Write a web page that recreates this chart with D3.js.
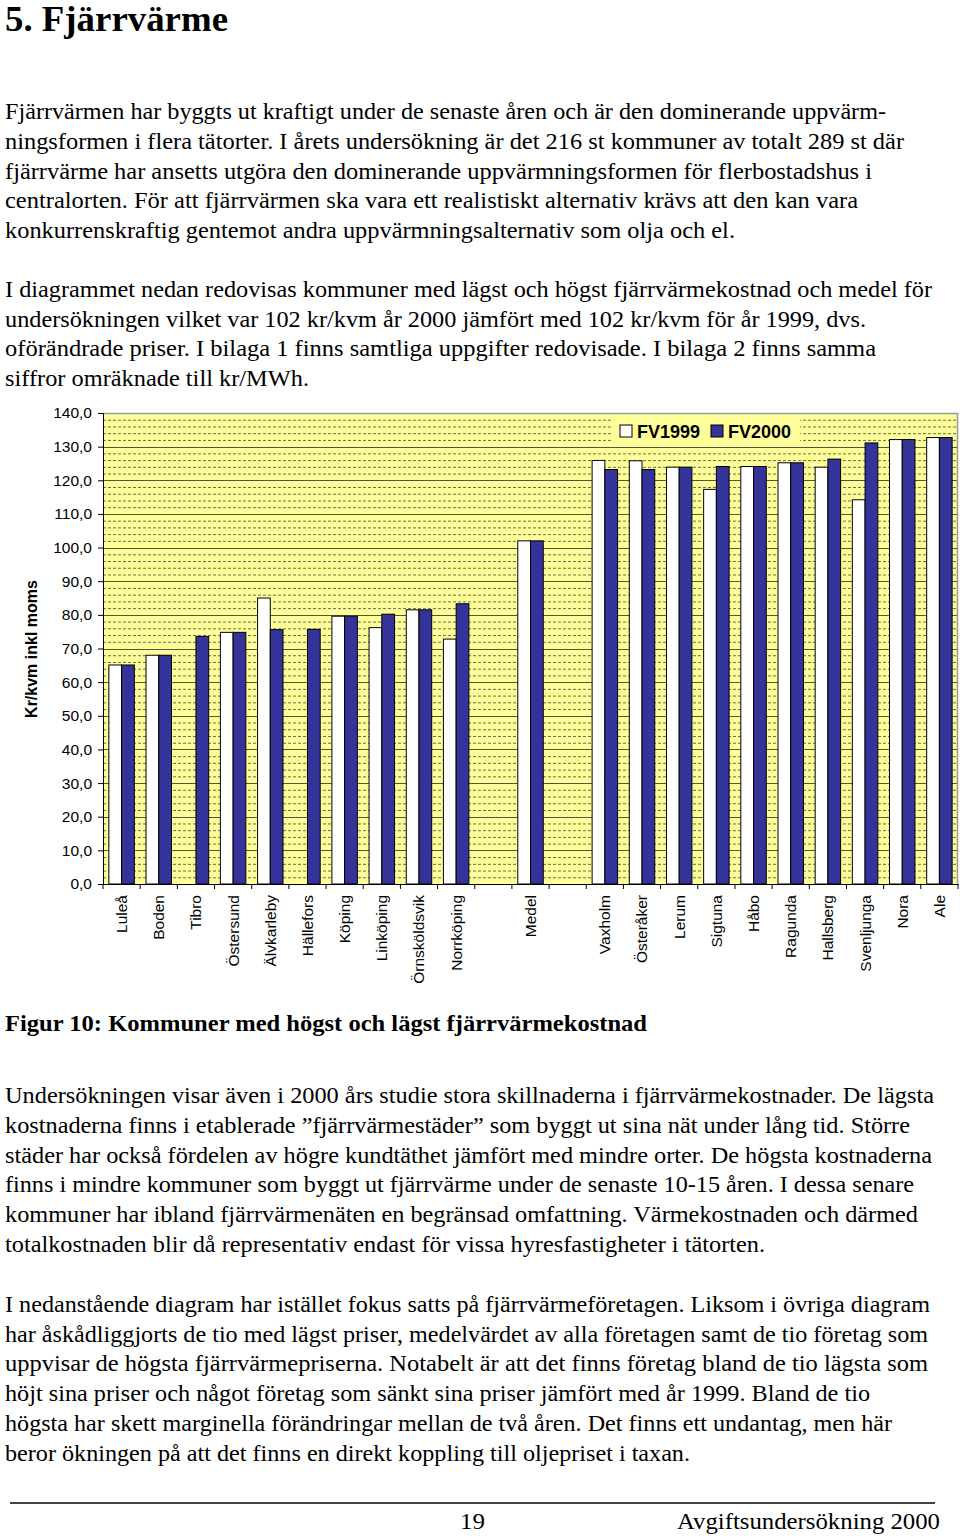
<!DOCTYPE html>
<html><head><meta charset="utf-8">
<script src="https://cdn.jsdelivr.net/npm/d3@7"></script>
<style>body{margin:0;background:#fff}svg{display:block}</style>
</head><body><svg id="c" width="960" height="1536"></svg>
<script>
const categories = ["Luleå","Boden","Tibro","Östersund","Älvkarleby","Hällefors","Köping","Linköping","Örnsköldsvik","Norrköping","","Medel","","Vaxholm","Österåker","Lerum","Sigtuna","Håbo","Ragunda","Hallsberg","Svenljunga","Nora","Ale"];
const fv1999 = [65.1,68.0,null,74.8,85.0,null,79.6,76.2,81.5,72.8,null,102.0,null,125.9,125.8,123.9,117.3,124.1,125.2,123.9,114.2,132.1,132.7];
const fv2000 = [65.1,68.0,73.6,74.8,75.6,75.7,79.6,80.2,81.5,83.3,null,102.0,null,123.2,123.2,123.9,124.1,124.1,125.2,126.3,131.1,132.1,132.7];
const seriesNames = ["FV1999","FV2000"];
const seriesColors = ["#ffffff","#333399"];
const yTicks = d3.range(0,141,10);
const yMinor = d3.range(0,141,2).filter(v => v % 10 !== 0);

const title = "5. Fjärrvärme";
const para1 = [
 ["Fjärrvärmen har byggts ut kraftigt under de senaste åren och är den dominerande uppvärm-",886],
 ["ningsformen i flera tätorter. I årets undersökning är det 216 st kommuner av totalt 289 st där",904],
 ["fjärrvärme har ansetts utgöra den dominerande uppvärmningsformen för flerbostadshus i",872],
 ["centralorten. För att fjärrvärmen ska vara ett realistiskt alternativ krävs att den kan vara",858],
 ["konkurrenskraftig gentemot andra uppvärmningsalternativ som olja och el.",735]
];
const para2 = [
 ["I diagrammet nedan redovisas kommuner med lägst och högst fjärrvärmekostnad och medel för",932],
 ["undersökningen vilket var 102 kr/kvm år 2000 jämfört med 102 kr/kvm för år 1999, dvs.",866],
 ["oförändrade priser. I bilaga 1 finns samtliga uppgifter redovisade. I bilaga 2 finns samma",876],
 ["siffror omräknade till kr/MWh.",309]
];
const caption = "Figur 10: Kommuner med högst och lägst fjärrvärmekostnad";
const para3 = [
 ["Undersökningen visar även i 2000 års studie stora skillnaderna i fjärrvärmekostnader. De lägsta",934],
 ["kostnaderna finns i etablerade ”fjärrvärmestäder” som byggt ut sina nät under lång tid. Större",910],
 ["städer har också fördelen av högre kundtäthet jämfört med mindre orter. De högsta kostnaderna",932],
 ["finns i mindre kommuner som byggt ut fjärrvärme under de senaste 10-15 åren. I dessa senare",914],
 ["kommuner har ibland fjärrvärmenäten en begränsad omfattning. Värmekostnaden och därmed",918],
 ["totalkostnaden blir då representativ endast för vissa hyresfastigheter i tätorten.",765]
];
const para4 = [
 ["I nedanstående diagram har istället fokus satts på fjärrvärmeföretagen. Liksom i övriga diagram",930],
 ["har åskådliggjorts de tio med lägst priser, medelvärdet av alla företagen samt de tio företag som",928],
 ["uppvisar de högsta fjärrvärmepriserna. Notabelt är att det finns företag bland de tio lägsta som",928],
 ["höjt sina priser och något företag som sänkt sina priser jämfört med år 1999. Bland de tio",870],
 ["högsta har skett marginella förändringar mellan de två åren. Det finns ett undantag, men här",892],
 ["beror ökningen på att det finns en direkt koppling till oljepriset i taxan.",690]
];

const SERIF = '"Liberation Serif"';
const SANS = '"Liberation Sans"';
const svg = d3.select("#c");

function stext(x, yy, size, txt, w, weight) {
  const t = svg.append("text").attr("x",x).attr("y",yy)
    .style("font-family",SERIF).style("font-size",size+"px").style("font-weight",weight||"normal")
    .text(txt);
  if (w) t.attr("textLength",w).attr("lengthAdjust","spacingAndGlyphs");
  return t;
}
function lines(arr, y0, step, weight) {
  arr.forEach((l,i) => stext(5, y0+i*step, 24, l[0], l[1]-5, weight));
}
stext(5, 31, 35, title, 223, "bold");
lines(para1,119,29.8);
lines(para2,297,29.7);
lines([[caption,647]],1031,0,"bold");
lines(para3,1103,29.8);
lines(para4,1312,29.7);

// footer
svg.append("line").attr("x1",10).attr("x2",935).attr("y1",1503).attr("y2",1503).attr("stroke","#444").attr("stroke-width",2);
stext(460,1529,24,"19",25);
stext(677,1529,24,"Avgiftsundersökning 2000",263);

// chart
const L=103,R=958,T=413,B=884;
const y = d3.scaleLinear().domain([0,140]).range([B,T]);
const x0 = d3.scaleBand().domain(d3.range(categories.length)).range([L,R]).padding(0);
const x1 = d3.scaleBand().domain(seriesNames).range([0,x0.bandwidth()]).paddingInner(0).paddingOuter(0.46);

const g = svg.append("g");
g.append("rect").attr("x",L).attr("y",T).attr("width",R-L).attr("height",B-T).attr("fill","#ffff99");
g.selectAll(".minor").data(yMinor).join("line").attr("x1",L).attr("x2",R)
  .attr("y1",d=>y(d)+0.5).attr("y2",d=>y(d)+0.5).attr("stroke","#6b6b50").attr("stroke-width",1).attr("stroke-dasharray","3,2");
g.selectAll(".major").data(yTicks.filter(d=>d>0)).join("line").attr("x1",L).attr("x2",R)
  .attr("y1",d=>Math.round(y(d))+0.5).attr("y2",d=>Math.round(y(d))+0.5).attr("stroke","#55553a").attr("stroke-width",1);
g.append("path").attr("d",`M${L},${T+0.5}H${R-0.5}V${B}`).attr("fill","none").attr("stroke","#999").attr("stroke-width",1.5);

// bars
const rows = categories.map((c,i)=>({i, vals:[fv1999[i],fv2000[i]]}));
const grp = g.selectAll(".grp").data(rows).join("g").attr("transform",d=>`translate(${x0(d.i)},0)`);
grp.selectAll("rect").data(d=>d.vals.map((v,k)=>({k,v})).filter(e=>e.v!=null)).join("rect")
  .attr("x",e=>x1(seriesNames[e.k])).attr("width",x1.bandwidth())
  .attr("y",e=>y(e.v)).attr("height",e=>y(0)-y(e.v))
  .attr("fill",e=>seriesColors[e.k]).attr("stroke","#000").attr("stroke-width",1);

// legend
const lg = svg.append("g");
lg.append("rect").attr("x",613).attr("y",418).attr("width",187).attr("height",27).attr("fill","#ffff99");
const lx=[620,711], tx=[637,728];
seriesNames.forEach((s,k)=>{
  lg.append("rect").attr("x",lx[k]).attr("y",425).attr("width",12).attr("height",12).attr("fill",seriesColors[k]).attr("stroke","#000");
  lg.append("text").attr("x",tx[k]).attr("y",438).style("font-family",SANS).style("font-weight","bold").style("font-size","18px").text(s);
});

// y axis
const yAxis = d3.axisLeft(y).tickValues(yTicks).tickSize(5).tickPadding(6).tickFormat(d=>d.toFixed(1).replace(".",","));
const ya = svg.append("g").attr("transform",`translate(${L},0)`).call(yAxis);
ya.select(".domain").attr("stroke","#000");
ya.selectAll("text").style("font-family",SANS).style("font-size","15.5px").attr("fill","#000");

// x axis
const xAxis = d3.axisBottom(x0).tickSize(0).tickPadding(0).tickFormat(i=>categories[i]);
const xa = svg.append("g").attr("transform",`translate(0,${B})`).call(xAxis);
xa.select(".domain").attr("stroke","#000");
xa.selectAll(".tick text").style("font-family",SANS).style("font-size","15.5px").attr("fill","#000")
  .attr("transform","rotate(-90)").attr("x",-11).attr("y",0).attr("dy","0.35em").attr("text-anchor","end");
const bounds = d3.range(categories.length+1).map(i=>L+i*x0.step());
xa.selectAll(".btick").data(bounds).join("line").attr("x1",d=>d).attr("x2",d=>d).attr("y1",0).attr("y2",5).attr("stroke","#000");

// y title
svg.append("text").attr("transform","translate(37,649) rotate(-90)").attr("text-anchor","middle")
  .style("font-family",SANS).style("font-weight","bold").style("font-size","16px").text("Kr/kvm inkl moms");
</script></body></html>
